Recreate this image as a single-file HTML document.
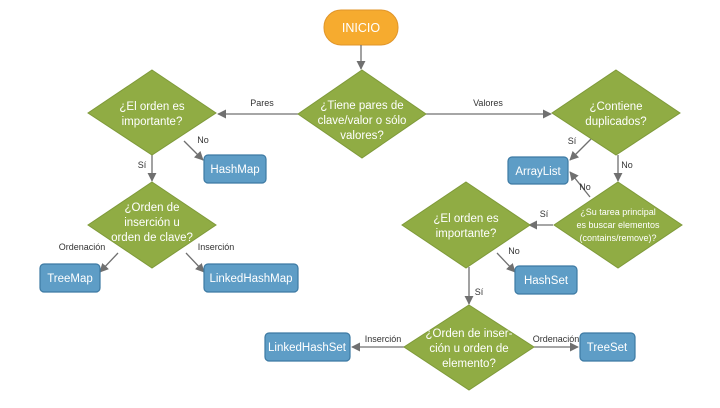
<!DOCTYPE html>
<html><head><meta charset="utf-8"><style>
html,body{margin:0;padding:0;background:#fff;width:720px;height:408px;overflow:hidden}
svg{display:block}
.d{fill:#90ac44;stroke:#7f9a3a;stroke-width:1}
.b{fill:#5e9dc6;stroke:#3d7aa3;stroke-width:1.2}
.t{font-family:"Liberation Sans",sans-serif;fill:#fff;font-size:11.5px;text-anchor:middle}
.s{font-family:"Liberation Sans",sans-serif;fill:#333;font-size:9px;text-anchor:middle}
.l{stroke:#707070;stroke-width:1.3;fill:none;marker-end:url(#a)}
</style></head><body>
<svg width="720" height="408" viewBox="0 0 720 408" xmlns="http://www.w3.org/2000/svg">
<defs><marker id="a" viewBox="0 0 10 10" refX="9" refY="5" markerWidth="7" markerHeight="7" orient="auto"><path d="M0,0 L10,5 L0,10 z" fill="#707070"/></marker></defs>
<rect x="324" y="10" width="74" height="35" rx="17" fill="#f6ab2f" stroke="#e0952a"/>
<text class="t" x="361" y="32" style="font-size:12.5px">INICIO</text>
<path class="l" d="M361 45 V69"/>
<path class="l" d="M298 114 H218"/>
<path class="l" d="M426 114 H551"/>
<path class="l" d="M152 155 V181"/>
<path class="l" d="M184 141 L203 160"/>
<path class="l" d="M118 253 L100 272"/>
<path class="l" d="M186 253 L204 272"/>
<path class="l" d="M592 138 L570 160"/>
<path class="l" d="M618 155 V181"/>
<path class="l" d="M590 197 L570 172"/>
<path class="l" d="M553 225 H529"/>
<path class="l" d="M497 253 L515 272"/>
<path class="l" d="M469 267 V304"/>
<path class="l" d="M405 347 H352"/>
<path class="l" d="M534 347 H578"/>
<polygon class="d" points="362,70 426,114 362,158 298,114"/>
<text class="t" x="362" y="109">¿Tiene pares de</text><text class="t" x="362" y="124">clave/valor o sólo</text><text class="t" x="362" y="139">valores?</text>
<polygon class="d" points="152,70 216,113 152,155 88,113"/>
<text class="t" x="152" y="110">¿El orden es</text><text class="t" x="152" y="125">importante?</text>
<polygon class="d" points="152,182 216,225 152,268 88,225"/>
<text class="t" x="152" y="211">¿Orden de</text><text class="t" x="152" y="226">inserción u</text><text class="t" x="152" y="241">orden de clave?</text>
<polygon class="d" points="616,70 680,113 616,155 552,113"/>
<text class="t" x="616" y="110">¿Contiene</text><text class="t" x="616" y="125">duplicados?</text>
<polygon class="d" points="618,182 682,225 618,268 554,225"/>
<text class="t" x="618" y="215" style="font-size:9px">¿Su tarea principal</text><text class="t" x="618" y="228" style="font-size:9px">es buscar elementos</text><text class="t" x="618" y="241" style="font-size:9px">(contains/remove)?</text>
<polygon class="d" points="466,182 530,225 466,268 402,225"/>
<text class="t" x="466" y="222">¿El orden es</text><text class="t" x="466" y="237">importante?</text>
<polygon class="d" points="469,305 534,347 469,390 404,347"/>
<text class="t" x="469" y="337">¿Orden de inser-</text><text class="t" x="469" y="352">ción u orden de</text><text class="t" x="469" y="367">elemento?</text>
<rect class="b" x="204" y="155" width="62" height="28" rx="4"/><text class="t" x="235" y="173">HashMap</text>
<rect class="b" x="40" y="264" width="60" height="28" rx="4"/><text class="t" x="70" y="282">TreeMap</text>
<rect class="b" x="204" y="264" width="94" height="28" rx="4"/><text class="t" x="251" y="282">LinkedHashMap</text>
<rect class="b" x="508" y="157" width="60" height="27" rx="4"/><text class="t" x="538" y="175">ArrayList</text>
<rect class="b" x="515" y="266" width="62" height="28" rx="4"/><text class="t" x="546" y="284">HashSet</text>
<rect class="b" x="265" y="333" width="85" height="28" rx="4"/><text class="t" x="307" y="351">LinkedHashSet</text>
<rect class="b" x="580" y="333" width="55" height="28" rx="4"/><text class="t" x="607" y="351">TreeSet</text>
<text class="s" x="262" y="106">Pares</text>
<text class="s" x="488" y="106">Valores</text>
<text class="s" x="203" y="143">No</text>
<text class="s" x="142" y="168">Sí</text>
<text class="s" x="82" y="250">Ordenación</text>
<text class="s" x="216" y="250">Inserción</text>
<text class="s" x="572" y="144">Sí</text>
<text class="s" x="627" y="168">No</text>
<text class="s" x="585" y="190">No</text>
<text class="s" x="544" y="217">Sí</text>
<text class="s" x="514" y="254">No</text>
<text class="s" x="479" y="295">Sí</text>
<text class="s" x="383" y="342">Inserción</text>
<text class="s" x="556" y="342">Ordenación</text>
</svg>
</body></html>
